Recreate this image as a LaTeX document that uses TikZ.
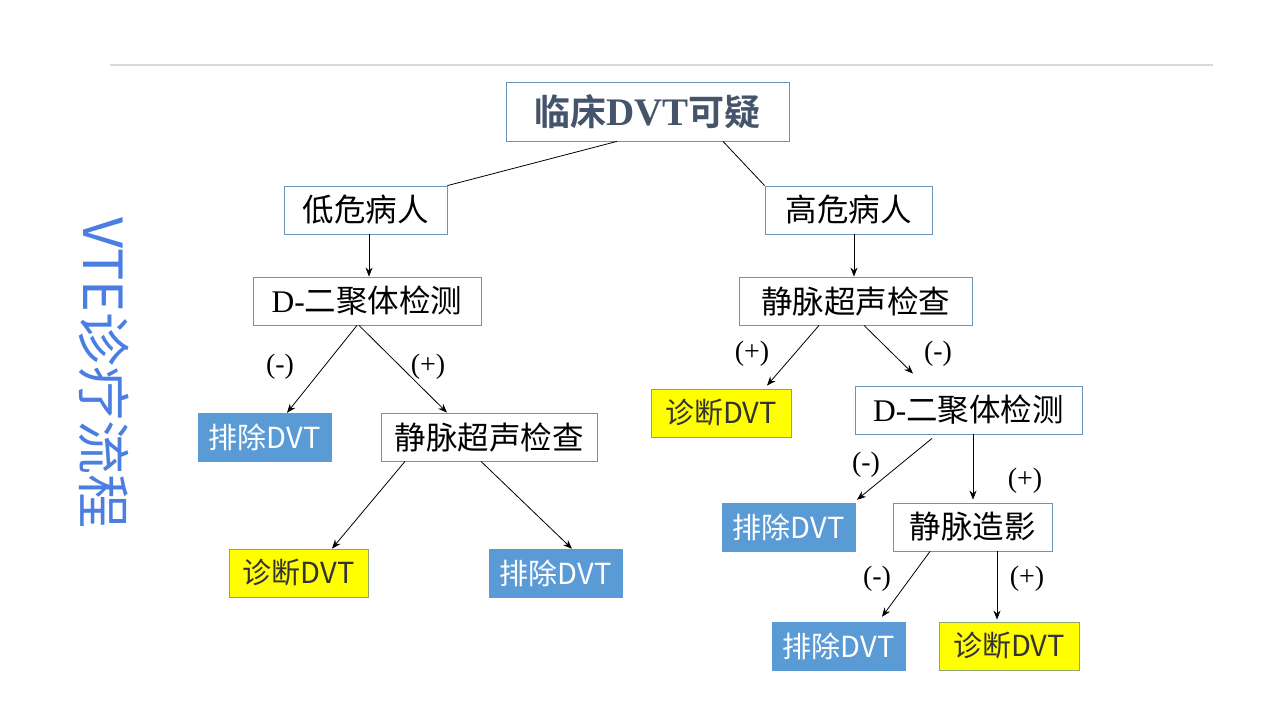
\documentclass[tikz,border=0pt]{standalone}
\usepackage{fontspec}
\usetikzlibrary{arrows.meta}
\newfontfamily\cjk{Noto Sans CJK SC}
\newfontfamily\cjkb{Noto Sans CJK SC}[BoldFont={* Bold}]
\newfontfamily\tnr{Liberation Serif}
\definecolor{boxline}{HTML}{6F93B8}
\definecolor{exfill}{HTML}{5B9BD5}
\definecolor{dgfill}{HTML}{FFFF00}
\definecolor{dgline}{HTML}{8EA66B}
\definecolor{titlecol}{HTML}{44546A}
\definecolor{sidecol}{HTML}{4A7EE0}
\definecolor{rulecol}{HTML}{D9D9D9}
\tikzset{
  wbox/.style={draw=boxline, line width=0.8pt, fill=white, minimum height=48pt, inner sep=0pt, font=\fontsize{31.5}{31.5}\selectfont\cjk},
  exbox/.style={draw=exfill, fill=exfill, text=white, minimum width=133pt, minimum height=48pt, inner sep=0pt, font=\fontsize{29}{29}\selectfont\cjk},
  dgbox/.style={draw=dgline, line width=0.8pt, fill=dgfill, text=black!80, minimum width=140pt, minimum height=48pt, inner sep=0pt, font=\fontsize{29}{29}\selectfont\cjk},
  arr/.style={draw=black, line width=0.8pt, -{Stealth[length=9pt,width=7pt]}},
  plain/.style={draw=black, line width=0.8pt},
  sgn/.style={font=\fontsize{28}{28}\selectfont\tnr, inner sep=0pt}
}
\begin{document}
\begin{tikzpicture}[x=1pt,y=-1pt]
\useasboundingbox (0,0) rectangle (1280,720);
\fill[white] (0,0) rectangle (1280,720);
\draw[rulecol, line width=2pt] (110,65) -- (1213,65);

\node[rotate=-90, text=sidecol, font=\fontsize{54}{54}\selectfont\cjk, inner sep=0pt] (side) at (104,373) {VTE诊疗流程};

\node[wbox, minimum width=283pt, minimum height=59pt, text=titlecol] (top) at (647.5,111.5)
  {{\fontsize{36}{36}\selectfont\cjkb\bfseries 临床}{\fontsize{39}{39}\selectfont\tnr\bfseries DVT}{\fontsize{36}{36}\selectfont\cjkb\bfseries 可疑}};
\node[wbox, minimum width=163pt] (low) at (365.5,210) {低危病人};
\node[wbox, minimum width=167pt] (high) at (848.5,210) {高危病人};
\node[wbox, minimum width=228pt] (dl) at (367,301) {{\tnr D-}二聚体检测};
\node[wbox, minimum width=233pt] (ur) at (855.5,301) {静脉超声检查};
\node[exbox] (ex1) at (264.5,437) {排除DVT};
\node[wbox, minimum width=216pt] (us2) at (489,437) {静脉超声检查};
\node[dgbox, minimum width=139pt] (dg1) at (298.5,573) {诊断DVT};
\node[exbox] (ex2) at (555.5,573) {排除DVT};
\node[dgbox] (dg2) at (721,413) {诊断DVT};
\node[wbox, minimum width=227pt] (dr) at (968.5,410) {{\tnr D-}二聚体检测};
\node[exbox] (ex3) at (788.5,527) {排除DVT};
\node[wbox, minimum width=159pt] (ven) at (972.5,527) {静脉造影};
\node[exbox] (ex4) at (838.5,646) {排除DVT};
\node[dgbox] (dg3) at (1009,646) {诊断DVT};

\draw[plain] ([xshift=-30.5pt]top.south) -- (low.north east);
\draw[plain] ([xshift=75.5pt]top.south) -- (high.north west);
\draw[arr] ([xshift=3.5pt]low.south) -- ([xshift=2pt]dl.north);
\draw[arr] ([xshift=5.5pt]high.south) -- ([xshift=-1.5pt]ur.north);
\draw[arr] ([xshift=-10pt]dl.south) -- ([xshift=22.5pt]ex1.north);
\draw[arr] ([xshift=-8pt]dl.south) -- ([xshift=-42pt]us2.north);
\draw[arr] ([xshift=-84pt]us2.south) -- ([xshift=33.5pt]dg1.north);
\draw[arr] ([xshift=-8pt]us2.south) -- ([xshift=16.5pt]ex2.north);
\draw[arr] ([xshift=-36.5pt]ur.south) -- ([xshift=46pt,yshift=3pt]dg2.north);
\draw[arr] ([xshift=8.5pt]ur.south) -- ([xshift=-55.5pt,yshift=12pt]dr.north);
\draw[arr] ([xshift=-36.5pt,yshift=-4pt]dr.south) -- ([xshift=68.5pt,yshift=3pt]ex3.north);
\draw[arr] ([xshift=4.5pt]dr.south) -- ([xshift=0.5pt,yshift=3pt]ven.north);
\draw[arr] ([xshift=-42.5pt]ven.south) -- ([xshift=43.5pt,yshift=5pt]ex4.north);
\draw[arr] ([xshift=24.5pt]ven.south) -- ([xshift=-12pt,yshift=2pt]dg3.north);

\node[sgn] (l1) at (280,367) {(-)};
\node[sgn] (l2) at (428,367) {(+)};
\node[sgn] (l3) at (752,354) {(+)};
\node[sgn] (l4) at (938,354) {(-)};
\node[sgn] (l5) at (866,465) {(-)};
\node[sgn] (l6) at (1025,481) {(+)};
\node[sgn] (l7) at (877,579) {(-)};
\node[sgn] (l8) at (1027,579) {(+)};
\end{tikzpicture}
\end{document}
